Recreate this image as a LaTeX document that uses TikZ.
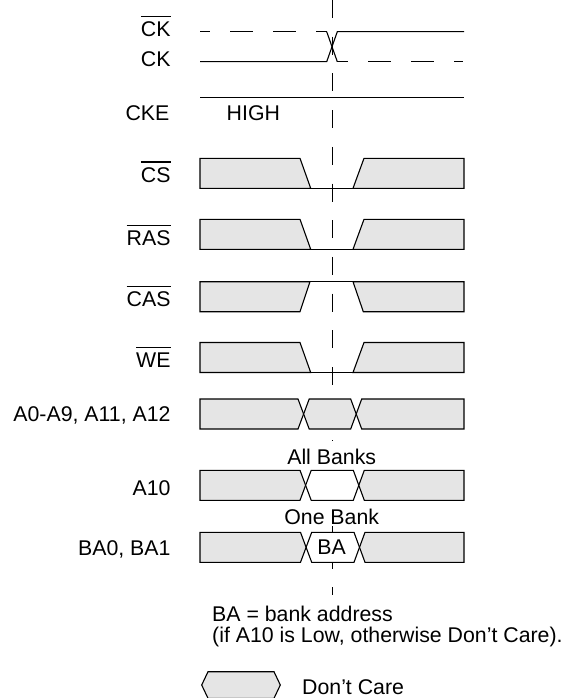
\documentclass[tikz,border=0pt]{standalone}
\usepackage{fontspec}
\setmainfont{Liberation Sans}
\definecolor{dcgray}{RGB}{229,229,229}
\newcommand\sigfont{\fontsize{21.3}{24}\selectfont}
\newcommand\ovl[1]{\vbox{\hrule height 1.3pt\kern 4.6pt\hbox{#1}}}
\tikzset{
  sig/.style={line width=1.1pt, line join=miter},
  dc/.style={sig, fill=dcgray},
  wht/.style={sig, fill=white},
  refline/.style={line width=1.3pt, dash pattern=on 18pt off 18.7pt},
  clkdash/.style={sig, dash pattern=on 23pt off 20pt},
  lbl/.style={anchor=base east, inner sep=0pt, font=\sigfont},
  txt/.style={inner sep=0pt, font=\sigfont},
}
\newcommand\lowpulse[1]{%
  \draw[dc] (200,#1-15) -- (300,#1-15) -- (310.7,#1+15) -- (200,#1+15) -- cycle;
  \draw[dc] (364,#1-15) -- (464,#1-15) -- (464,#1+15) -- (353,#1+15) -- cycle;
  \draw[sig] (310.7,#1+15) -- (353,#1+15);
}
\newcommand\highpulse[1]{%
  \draw[dc] (200,#1-15) -- (310,#1-15) -- (300,#1+15) -- (200,#1+15) -- cycle;
  \draw[dc] (353,#1-15) -- (464,#1-15) -- (464,#1+15) -- (363.3,#1+15) -- cycle;
  \draw[sig] (310,#1-15) -- (353,#1-15);
}
% #1 centre y, #2 middle style, #3 left cross start, #4 right cross start
\newcommand\busrow[4]{%
  \draw[dc] (200,#1-15) -- (#3,#1-15) -- (#3+5.6,#1) -- (#3,#1+15) -- (200,#1+15) -- cycle;
  \draw[#2] (#3+5.6,#1) -- (#3+11.2,#1-15) -- (#4,#1-15) -- (#4+5.5,#1) -- (#4,#1+15) -- (#3+11.2,#1+15) -- cycle;
  \draw[dc] (#4+5.5,#1) -- (#4+11,#1-15) -- (464,#1-15) -- (464,#1+15) -- (#4+11,#1+15) -- cycle;
}
\begin{document}
\begin{tikzpicture}[x=1pt,y=-1pt]
\useasboundingbox (0,0) rectangle (563,698);
% reference line
\coordinate (reftop) at (332.7,0);
\coordinate (refbot) at (332.7,595);
\draw[refline] (reftop) -- (refbot);
% clocks
\draw[clkdash, dash phase=13pt] (200,31.7) -- (326.7,31.7);
\draw[sig] (326.7,31.7) -- (337.3,61.7);
\draw[clkdash, dash phase=12pt] (337.3,61.7) -- (463,61.7);
\draw[sig] (200,61.7) -- (326.7,61.7) -- (337.3,31.7) -- (464,31.7);
% CKE
\draw[sig] (200,97.3) -- (464,97.3);
\node[txt, anchor=base west] (high) at (226.5,120.8) {HIGH};
% control signals
\lowpulse{173.3}
\lowpulse{234.3}
\highpulse{296.7}
\lowpulse{357.5}
% address
\busrow{414}{dc}{298}{350.7}
\busrow{485.3}{wht}{300}{353.3}
\busrow{547.3}{wht}{300.5}{354}
\node[txt, anchor=base, fill=white, text height=23pt, text depth=1pt] (allb) at (331.7,464.2) {All Banks};
\node[txt, anchor=base, fill=white, text height=21pt, text depth=2pt] (oneb) at (331.7,524.2) {One Bank};
\node[txt, anchor=base] (ba) at (331.7,554.5) {BA};
% labels
\node[lbl] (lckb) at (170.7,36.5) {\ovl{CK}};
\node[lbl] (lck) at (170.7,66.5) {CK};
\node[lbl] (lcke) at (169.5,121) {CKE};
\node[lbl] (lcs) at (170.7,182.2) {\ovl{CS}};
\node[lbl] (lras) at (170.7,245.5) {\ovl{RAS}};
\node[lbl] (lcas) at (170.7,306.5) {\ovl{CAS}};
\node[lbl] (lwe) at (170.7,367.5) {\ovl{WE}};
\node[lbl] (la0) at (170.7,421.5) {A0-A9, A11, A12};
\node[lbl] (la10) at (170.7,495) {A10};
\node[lbl] (lba) at (170.7,555.5) {BA0, BA1};
% notes
\node[txt, anchor=base west] (note1) at (212,621.7) {BA = bank address};
\node[txt, anchor=base west] (note2) at (212,642.7) {(if A10 is Low, otherwise Don’t Care).};
% legend
\draw[dc] (201.7,685) -- (208,671.7) -- (274,671.7) -- (280.3,685) -- (274,698.3) -- (208,698.3) -- cycle;
\node[txt, anchor=base west] (dcare) at (302,694) {Don’t Care};
\end{tikzpicture}
\end{document}
